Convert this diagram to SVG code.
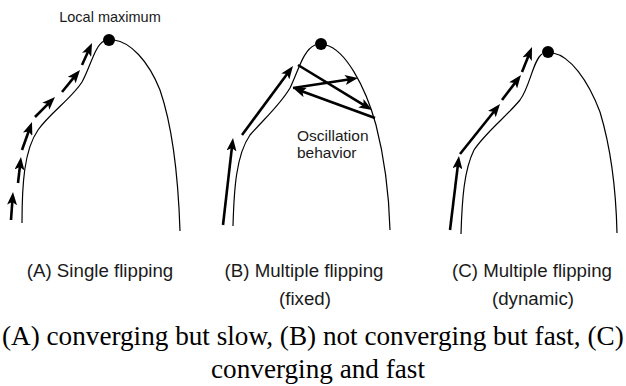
<svg xmlns="http://www.w3.org/2000/svg" width="626" height="386" viewBox="0 0 626 386">
<style>
.curve{fill:none;stroke:#000;stroke-width:1.2}
.arr{fill:none;stroke:#000;stroke-width:2.6;marker-end:url(#ah)}
.dot{fill:#000}
.sans{font-family:"Liberation Sans",Arial,sans-serif;fill:#1a1a1a}
.serif{font-family:"Liberation Serif","Times New Roman",serif;fill:#000}
</style>
<defs>
<marker id="ah" viewBox="0 0 13 10" markerWidth="13" markerHeight="10" refX="5" refY="5" orient="auto" markerUnits="userSpaceOnUse">
<path d="M0,0 L13,5 L0,10 L3,5 Z" fill="#000"/>
</marker>
</defs>
<rect width="626" height="386" fill="#fff"/>

<g id="panelA">
<path class="curve" d="M22,223 C22,185 24,150 38,130 C50,113 72,98 82,82 C90,68 95,45 104,41"/>
<path class="curve" d="M114,40 C130,42 148,60 160,90 C172,125 178,170 180,231"/>
<circle class="dot" cx="109" cy="40" r="6"/>
<text class="sans" x="110" y="22" font-size="14.5" text-anchor="middle">Local maximum</text>
<text class="sans" x="100" y="277" font-size="18.7" text-anchor="middle">(A) Single flipping</text>
</g>

<g id="panelB">
<path class="curve" d="M233,226 C234,190 236,155 250,135 C265,118 280,105 290,88 C298,72 303,50 315,45"/>
<path class="curve" d="M326,45 C345,50 365,85 376,125 C385,160 389,195 390,230"/>
<circle class="dot" cx="321" cy="44" r="6"/>
<text class="sans" x="297" y="141" font-size="15.5">Oscillation</text>
<text class="sans" x="297" y="158" font-size="15.5">behavior</text>
<text class="sans" x="304" y="277" font-size="18.7" text-anchor="middle">(B) Multiple flipping</text>
<text class="sans" x="305" y="305" font-size="18.7" text-anchor="middle">(fixed)</text>
</g>

<g id="panelC">
<path class="curve" d="M461,234 C462,200 464,170 474,150 C486,132 505,118 520,100 C530,87 533,60 542,54"/>
<path class="curve" d="M553,53 C570,56 588,80 600,112 C610,145 616,190 617,233"/>
<circle class="dot" cx="548" cy="52" r="6"/>
<text class="sans" x="532" y="277" font-size="18.7" text-anchor="middle">(C) Multiple flipping</text>
<text class="sans" x="533" y="305" font-size="18.7" text-anchor="middle">(dynamic)</text>
</g>

<g id="connectors">
<line class="arr" x1="11" y1="220" x2="12.43" y2="199.98"/>
<line class="arr" x1="18" y1="183" x2="20.08" y2="164.95"/>
<line class="arr" x1="22" y1="150" x2="29.31" y2="129.54"/>
<line class="arr" x1="35" y1="117" x2="49.34" y2="102.66"/>
<line class="arr" x1="62" y1="92" x2="74.94" y2="76.19"/>
<line class="arr" x1="82" y1="65" x2="88.69" y2="50.28"/>

<line class="arr" x1="223" y1="225" x2="232.09" y2="145.95"/>
<line class="arr" x1="242" y1="135" x2="288.25" y2="72.43"/>
<line class="arr" x1="298" y1="65" x2="365.17" y2="105.84"/>
<line class="arr" x1="293" y1="88" x2="350.09" y2="79.22"/>
<line class="arr" x1="375" y1="118" x2="300.51" y2="90.75"/>

<line class="arr" x1="450" y1="230" x2="458.03" y2="163.94"/>
<line class="arr" x1="460" y1="154" x2="495" y2="110.25"/>
<line class="arr" x1="502" y1="100" x2="516.16" y2="81.37"/>
<line class="arr" x1="522" y1="72" x2="529.03" y2="54.43"/>
</g>

<g id="caption">
<text class="serif" x="2" y="345" font-size="27.2">(A) converging but slow, (B) not converging but fast, (C)</text>
<text class="serif" x="318" y="378" font-size="27.2" text-anchor="middle">converging and fast</text>
</g>
</svg>
